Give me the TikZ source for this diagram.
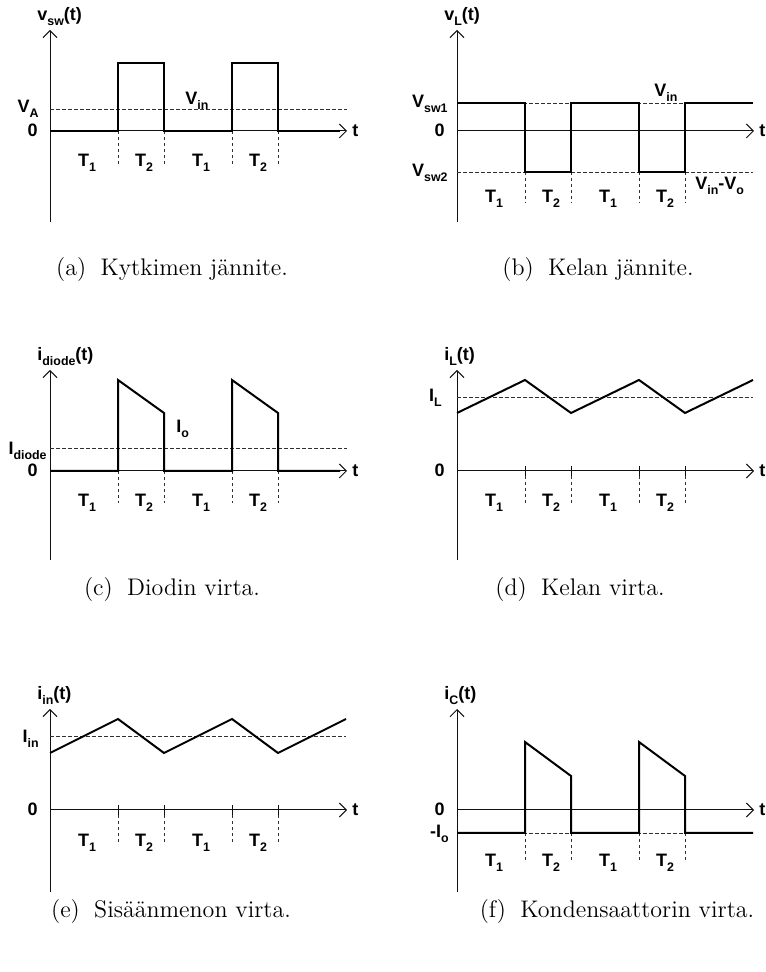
\documentclass[tikz,border=0pt]{standalone}
\usepackage{fontspec}
\usepackage{tikz}
\usetikzlibrary{arrows.meta}
\newfontfamily\plotfont{Liberation Sans}
\definecolor{WAVEcolor}{HTML}{000000}
\definecolor{AXIScolor}{HTML}{101010}
\definecolor{REFcolor}{HTML}{303030}
\newcommand{\lowsub}[1]{\raisebox{-0.45ex}{\fontsize{6.2}{7}\selectfont #1}}
\tikzset{
  axisline/.style={AXIScolor, line width=0.5pt, -{Straight Barb[length=3.5pt,width=7pt]}},
  waveline/.style={WAVEcolor, line width=1pt},
  refline/.style={REFcolor, line width=0.45pt, dash pattern=on 2pt off 1pt},
  markline/.style={REFcolor, line width=0.45pt, dash pattern=on 1.5pt off 1.5pt},
  lbl/.style={font=\plotfont\bfseries\fontsize{9}{11}\selectfont, inner sep=0pt},
  capt/.style={font=\fontsize{12}{14}\selectfont, inner sep=0pt}
}

\begin{document}
\begin{tikzpicture}[x=0.5pt, y=0.5pt]
  \useasboundingbox (0,0) rectangle (765,972);
  \foreach \p/\ox/\oy/\bot/\mtop/\mbot/\tb/\ttl in {
    a/50/841/91/0/-34/-36/{v\lowsub{sw}(t)}, b/457/841/91/-41/-72/-72/{v\lowsub{L}(t)},
    c/50/501/89/0/-32/-36/{i\lowsub{diode}(t)}, d/457/501/89/-5/-32/-36/{i\lowsub{L}(t)},
    e/50/162/82/-5/-32/-37/{i\lowsub{in}(t)}, f/457/162/82/-23/-53/-57/{i\lowsub{C}(t)}
  } {
    \begin{scope}[shift={(\ox,\oy)}]
      \draw[axisline] (0,-\bot) -- (0,101);
      \draw[axisline] (0,0) -- (297,0);
      \node[lbl, anchor=base west] (\p-t) at (302,-6) {t};
      \node[lbl, anchor=base east] (\p-zero) at (-12,-6) {0};
      \node[lbl, anchor=base west] (\p-title) at (-13,110) {\ttl};
      \foreach \xa/\xb/\n in {0/68/1, 68/114/2, 114/182/1, 182/228/2} {
        \draw[markline] (\xb,\mtop) -- (\xb,\mbot);
        \node[lbl, anchor=base] (\p-T\xb) at ({(\xa+\xb)/2+3},\tb) {T\lowsub{\n}};
      }
    \end{scope}
  }

  % (a) switch voltage
  \begin{scope}[shift={(50,841)}]
    \draw[refline] (0,22) -- (297,22);
    \draw[waveline] (0,0) -| (68,68) -| (114,0) -| (182,68) -| (228,0) -- (290,0);
    \node[lbl, anchor=base east] (a-va) at (-11,18) {V\lowsub{A}};
    \node[lbl, anchor=base west] (a-vin) at (135,26) {V\lowsub{in}};
  \end{scope}

  % (b) inductor voltage
  \begin{scope}[shift={(457,841)}]
    \draw[refline] (0,28) -- (296,28);
    \draw[refline] (0,-41) -- (296,-41);
    \draw[waveline] (0,28) -| (68,-41) -| (114,28) -| (182,-41) -| (228,28) -- (296,28);
    \node[lbl, anchor=base east] (b-vsw1) at (-9,23) {V\lowsub{sw1}};
    \node[lbl, anchor=base east] (b-vsw2) at (-9,-46) {V\lowsub{sw2}};
    \node[lbl, anchor=base west] (b-vin) at (197,34) {V\lowsub{in}};
    \node[lbl, anchor=base west] (b-vdiff) at (238,-59) {V\lowsub{in}-V\lowsub{o}};
  \end{scope}

  % (c) diode current
  \begin{scope}[shift={(50,501)}]
    \draw[refline] (0,23) -- (297,23);
    \draw[waveline] (0,0) -| (68,91) -- (114,58) -- (114,0) -| (182,91) -- (228,58) -- (228,0) -- (290,0);
    \node[lbl, anchor=base east] (c-idiode) at (-3,16) {I\lowsub{diode}};
    \node[lbl, anchor=base west] (c-io) at (126,38) {I\lowsub{o}};
  \end{scope}

  % (d) inductor current
  \begin{scope}[shift={(457,501)}]
    \draw[refline] (0,74) -- (296,74);
    \draw[waveline] (0,58) -- (68,91) -- (114,58) -- (182,91) -- (228,58) -- (296,91);
    \foreach \x in {68,114,182,228} \draw[AXIScolor, line width=0.5pt] (\x,5) -- (\x,-5);
    \node[lbl, anchor=base east] (d-il) at (-15,69) {I\lowsub{L}};
  \end{scope}

  % (e) input current
  \begin{scope}[shift={(50,162)}]
    \draw[refline] (0,74) -- (296,74);
    \draw[waveline] (0,57) -- (68,91) -- (114,57) -- (182,91) -- (228,57) -- (296,91);
    \foreach \x in {68,114,182,228} \draw[AXIScolor, line width=0.5pt] (\x,5) -- (\x,-5);
    \node[lbl, anchor=base east] (e-iin) at (-11,67) {I\lowsub{in}};
  \end{scope}

  % (f) capacitor current
  \begin{scope}[shift={(457,162)}]
    \draw[refline] (0,-23) -- (296,-23);
    \draw[waveline] (0,-23) -| (68,68) -- (114,34) -- (114,-23) -| (182,68) -- (228,34) -- (228,-23) -- (296,-23);
    \node[lbl, anchor=base east] (f-io) at (-8,-28) {-I\lowsub{o}};
  \end{scope}

  \node[capt] (cap-a) at (172,702) {(a)\hspace{0.6em}Kytkimen jännite.};
  \node[capt] (cap-b) at (598,702) {(b)\hspace{0.6em}Kelan jännite.};
  \node[capt] (cap-c) at (172,382) {(c)\hspace{0.6em}Diodin virta.};
  \node[capt] (cap-d) at (580,382) {(d)\hspace{0.6em}Kelan virta.};
  \node[capt] (cap-e) at (171,60) {(e)\hspace{0.6em}Sisäänmenon virta.};
  \node[capt] (cap-f) at (617,60) {(f)\hspace{0.6em}Kondensaattorin virta.};
\end{tikzpicture}
\end{document}
